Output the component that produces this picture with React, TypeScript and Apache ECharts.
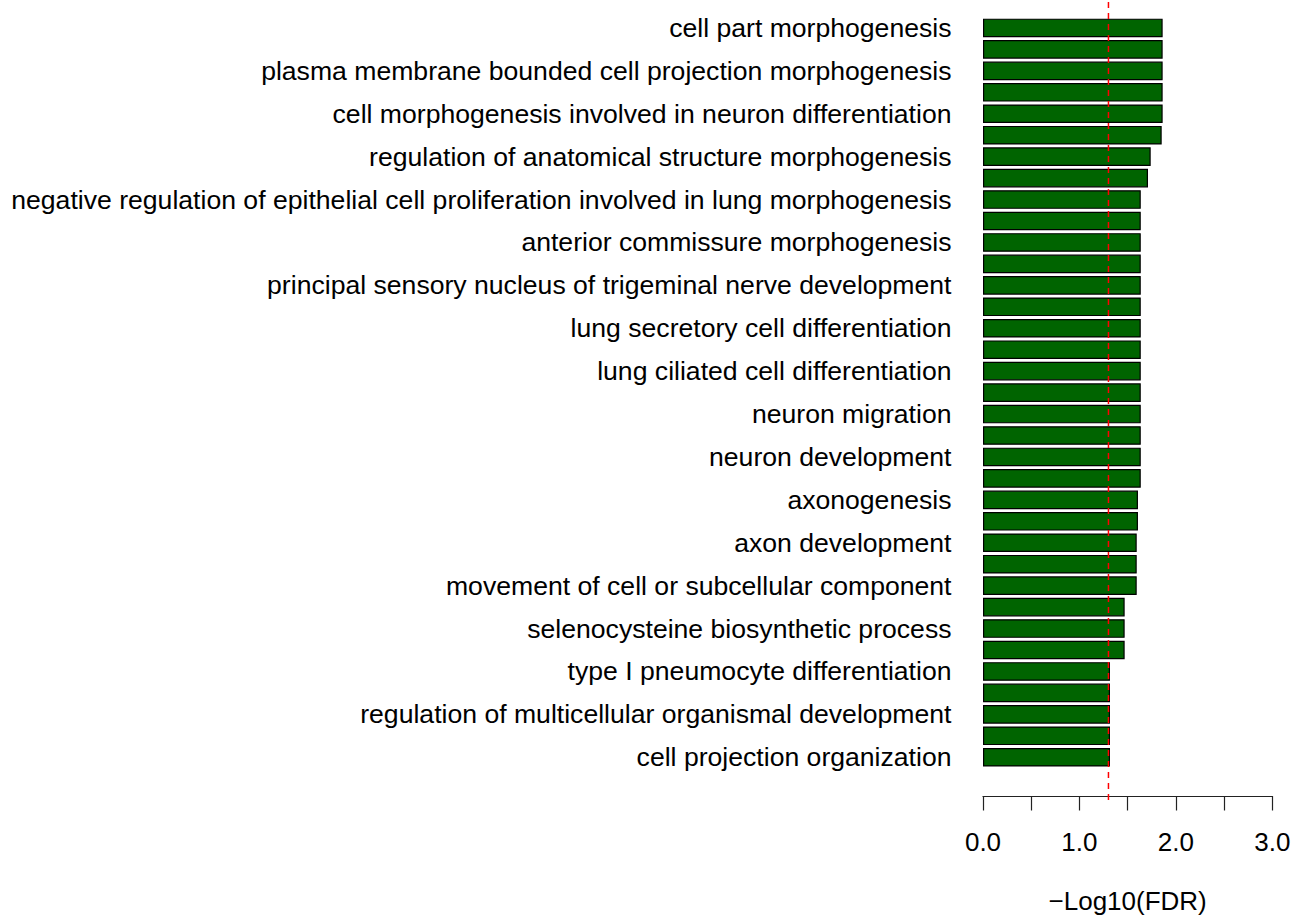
import React, { useEffect, useRef } from "react";
import * as echarts from "echarts";

// GO terms: only every other bar carries a readable label in the reference
const categories: string[] = [
  "cell part morphogenesis", "",
  "plasma membrane bounded cell projection morphogenesis", "",
  "cell morphogenesis involved in neuron differentiation", "",
  "regulation of anatomical structure morphogenesis", "",
  "negative regulation of epithelial cell proliferation involved in lung morphogenesis", "",
  "anterior commissure morphogenesis", "",
  "principal sensory nucleus of trigeminal nerve development", "",
  "lung secretory cell differentiation", "",
  "lung ciliated cell differentiation", "",
  "neuron migration", "",
  "neuron development", "",
  "axonogenesis", "",
  "axon development", "",
  "movement of cell or subcellular component", "",
  "selenocysteine biosynthetic process", "",
  "type I pneumocyte differentiation", "",
  "regulation of multicellular organismal development", "",
  "cell projection organization",
];

// -Log10(FDR) values
const values: number[] = [
  1.863, 1.863, 1.863, 1.863, 1.863, 1.853, 1.739, 1.711,
  1.636, 1.636, 1.636, 1.636, 1.636, 1.636, 1.636,
  1.636, 1.636, 1.636, 1.636, 1.636, 1.636, 1.636,
  1.607, 1.607,
  1.594, 1.594, 1.594,
  1.469, 1.469, 1.469,
  1.317, 1.317, 1.317, 1.317, 1.317,
];

// significance threshold: -log10(0.05)
const thresholdLine: number[][] = [
  [1.301, 0],
  [1.301, 1],
];

const xTickLabels: string[] = ["0.0", "1.0", "2.0", "3.0"];
const xAxisTitle = "\u2212Log10(FDR)";

const FONT = "Arial, 'Liberation Sans', sans-serif";

export default function App() {
  const ref = useRef<HTMLDivElement>(null);

  useEffect(() => {
    if (!ref.current) return;
    const chart = echarts.init(ref.current, undefined, { renderer: "svg" });
    const gridLeft = 983;
    const gridRight = 22.7;
    chart.setOption({
      animation: false,
      backgroundColor: "#ffffff",
      grid: [
        { left: gridLeft, right: gridRight, top: 17.2, height: 754, containLabel: false },
        { left: gridLeft, right: gridRight, top: 0, height: 800, containLabel: false },
      ],
      xAxis: [
        {
          type: "value",
          gridIndex: 0,
          min: 0,
          max: 3,
          interval: 0.5,
          offset: 28,
          name: xAxisTitle,
          nameLocation: "middle",
          nameGap: 92,
          nameTextStyle: { fontSize: 26, color: "#000", fontFamily: FONT },
          axisLine: { show: true, lineStyle: { color: "#222", width: 1.2 } },
          axisTick: { show: true, length: 14.5, lineStyle: { color: "#222", width: 1.2 } },
          axisLabel: {
            margin: 33,
            fontSize: 26,
            color: "#000",
            fontFamily: FONT,
            formatter: (v: number) => {
              const s = v.toFixed(1);
              return xTickLabels.includes(s) ? s : "";
            },
          },
          splitLine: { show: false },
        },
        {
          type: "value",
          gridIndex: 1,
          min: 0,
          max: 3,
          show: false,
        },
      ],
      yAxis: [
        {
          type: "category",
          gridIndex: 0,
          data: categories,
          inverse: true,
          axisLine: { show: false },
          axisTick: { show: false },
          axisLabel: {
            interval: 0,
            margin: 31.5,
            fontSize: 26.6,
            color: "#000",
            fontFamily: FONT,
          },
          splitLine: { show: false },
        },
        {
          type: "value",
          gridIndex: 1,
          min: 0,
          max: 1,
          show: false,
        },
      ],
      series: [
        {
          type: "bar",
          xAxisIndex: 0,
          yAxisIndex: 0,
          data: values,
          barWidth: 18.6,
          itemStyle: { color: "#006400", borderColor: "#000", borderWidth: 1.2 },
          silent: true,
        },
        {
          type: "line",
          xAxisIndex: 1,
          yAxisIndex: 1,
          data: thresholdLine,
          symbol: "none",
          silent: true,
          z: 5,
          lineStyle: { color: "#ff0000", width: 1.5, type: [6, 5] },
        },
      ],
    });
    return () => chart.dispose();
  }, []);

  return (
    <div
      ref={ref}
      style={{ position: "fixed", left: 0, top: 0, width: 1295, height: 919, background: "#fff" }}
    />
  );
}
